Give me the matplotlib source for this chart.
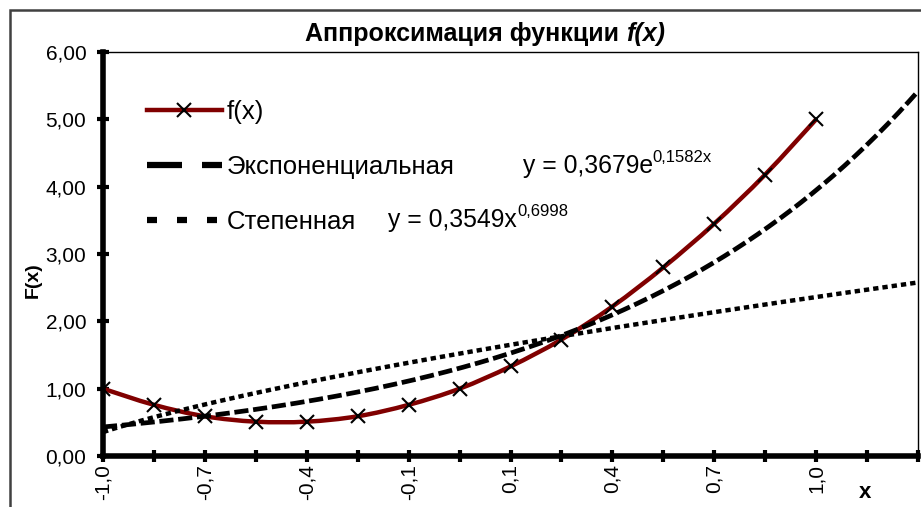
"""
Approximation of f(x) with exponential and power trend lines (Excel-style chart).
"""

import numpy as np
import matplotlib
matplotlib.use("Agg")
import matplotlib.pyplot as plt
from matplotlib.path import Path
from matplotlib.patches import PathPatch, Rectangle
from matplotlib.lines import Line2D

plt.rcParams["font.family"] = ["Liberation Sans", "DejaVu Sans"]

# ------------------------------------------------------------------ #
# Data
# ------------------------------------------------------------------ #
x_values = [-1.0, -0.857, -0.714, -0.571, -0.429, -0.286, -0.143, 0.0,
            0.143, 0.286, 0.429, 0.571, 0.714, 0.857, 1.0]
f_values = [1.00, 0.76, 0.59, 0.51, 0.51, 0.59, 0.76, 1.00,
            1.33, 1.73, 2.22, 2.80, 3.45, 4.18, 5.00]

# trend line equations shown on the chart (x = category number 1, 2, ...)
exp_a, exp_b = 0.3679, 0.1582
pow_a, pow_b = 0.3549, 0.6998
forecast_periods = 2

y_ticks = [0, 1, 2, 3, 4, 5, 6]

DARK_RED = "#800000"


def smooth_path(xs, ys):
    """Bezier path through the points, like Excel's 'smoothed line'."""
    pts = np.column_stack([xs, ys]).astype(float)
    n = len(pts)
    verts = [pts[0]]
    codes = [Path.MOVETO]
    for i in range(n - 1):
        p0 = pts[i - 1] if i > 0 else pts[i]
        p1, p2 = pts[i], pts[i + 1]
        p3 = pts[i + 2] if i + 2 < n else pts[i + 1]
        verts += [p1 + (p2 - p0) / 6.0, p2 - (p3 - p1) / 6.0, p2]
        codes += [Path.CURVE4] * 3
    return Path(verts, codes)


fig = plt.figure(figsize=(9.21, 5.07), dpi=100)
ax = fig.add_axes([103 / 921, 51 / 507, 815 / 921, 404 / 507])

# outer chart frame (right and bottom edges run off the picture)
fig.patches.append(Rectangle((10 / 921, -0.2), 1.2, 1.2 - 10 / 507,
                             transform=fig.transFigure, fill=False,
                             edgecolor="#404040", linewidth=1.8))

n_points = len(f_values)
cat = np.arange(1, n_points + 1)

# f(x): smoothed line + markers
ax.add_patch(PathPatch(smooth_path(cat, f_values), fill=False,
                       edgecolor=DARK_RED, linewidth=3.2,
                       transform=ax.transData, zorder=2))
ax.plot(cat, f_values, linestyle="none", marker="x", markersize=10,
        markeredgewidth=1.5, color="black", zorder=2.5)

# trend lines, extended two periods forward
t = np.linspace(1, n_points + forecast_periods, 300)
ax.plot(t, exp_a * np.exp(exp_b * t), color="black", linewidth=3.4,
        dashes=(3.0, 1.0), zorder=3)
ax.plot(t, pow_a * t ** pow_b, color="black", linewidth=3.2,
        dashes=(1.2, 0.9), zorder=3)

ax.set_xlim(1, n_points + forecast_periods)
ax.set_ylim(0, 6)

# axes styling
for side in ("left", "bottom"):
    ax.spines[side].set_linewidth(4.0)
    ax.spines[side].set_zorder(4)
for side in ("top", "right"):
    ax.spines[side].set_linewidth(1.0)

ax.set_yticks(y_ticks)
ax.set_yticklabels([f"{v:.2f}".replace(".", ",") for v in y_ticks],
                   fontsize=15)
all_cats = np.arange(1, n_points + forecast_periods + 1)
x_labels = []
for i, c in enumerate(all_cats):
    if i < n_points and i % 2 == 0:
        x_labels.append(f"{x_values[i]:.1f}".replace(".", ","))
    else:
        x_labels.append("")
ax.set_xticks(all_cats)
ax.set_xticklabels(x_labels, rotation=90, fontsize=15)
ax.tick_params(axis="both", direction="inout", length=8, width=3)
ax.tick_params(axis="y", pad=8)
ax.tick_params(axis="x", pad=2)

# legend
handles = [
    Line2D([], [], color=DARK_RED, linewidth=3.2, marker="x", markersize=10,
           markeredgecolor="black", markeredgewidth=1.5),
    Line2D([], [], color="black", linewidth=4.5, dashes=(5.6, 3.2)),
    Line2D([], [], color="black", linewidth=4.5, dashes=(1.6, 3.2)),
]
labels = ["f(x)", "Экспоненциальная", "Степенная"]
ax.legend(handles, labels, loc="upper left", bbox_to_anchor=(0.054, 0.88),
          frameon=False, fontsize=18.5, handlelength=2.9, handletextpad=0.2,
          labelspacing=1.2, borderpad=0, borderaxespad=0)

# trend line equations
t_exp = ax.text(0.515, 1 - (173 - 52) / 404, "y = 0,3679e", fontsize=17.8,
                transform=ax.transAxes, va="baseline", ha="left")
ax.annotate("0,1582x", xy=(1.0, 0.55), xycoords=t_exp, fontsize=12,
            va="bottom", ha="left")
t_pow = ax.text(0.350, 1 - (227 - 52) / 404, "y = 0,3549x", fontsize=17.8,
                transform=ax.transAxes, va="baseline", ha="left")
ax.annotate("0,6998", xy=(1.0, 0.55), xycoords=t_pow, fontsize=12,
            va="bottom", ha="left")

# title and axis labels
title = fig.text(305 / 921, 1 - 34 / 507, "Аппроксимация функции",
                 fontsize=18, fontweight="bold", va="center", ha="left")
ax.annotate("f(x)", xy=(1.0, 0.5), xycoords=title, xytext=(5, 0),
            textcoords="offset points", fontsize=18, fontweight="bold",
            fontstyle="italic", va="center", ha="left")

fig.text(33 / 921, 1 - 280 / 507, "F(x)", fontsize=14, fontweight="bold",
         rotation=90, va="center", ha="center")
fig.text(865 / 921, 1 - 492 / 507, "x", fontsize=16, fontweight="bold",
         va="center", ha="center")

fig.savefig("out.png", dpi=100)
plt.close(fig)
